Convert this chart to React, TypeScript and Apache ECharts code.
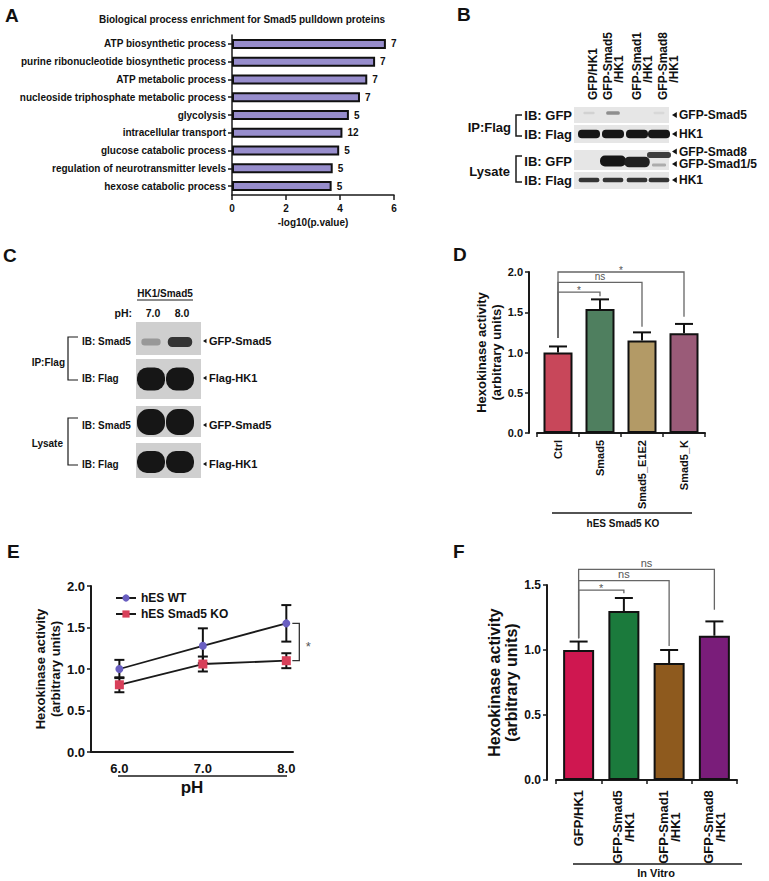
import React, { useEffect, useRef } from 'react';
import * as echarts from 'echarts';

const FONT = '"Liberation Sans", Arial, Helvetica, sans-serif';
const INK = '#111';

// ---------- Panel A : GO enrichment ----------
const goTerms = [
  'ATP biosynthetic process',
  'purine ribonucleotide biosynthetic process',
  'ATP metabolic process',
  'nucleoside triphosphate metabolic process',
  'glycolysis',
  'intracellular transport',
  'glucose catabolic process',
  'regulation of neurotransmitter levels',
  'hexose catabolic process',
];
const goLogP = [5.7, 5.3, 5.01, 4.74, 4.33, 4.09, 3.97, 3.73, 3.69];
const goGeneCounts = [7, 7, 7, 7, 5, 12, 5, 5, 5];

// ---------- Panel B : co-IP blot (band intensities 0..1) ----------
const bLaneLabels = ['GFP/HK1', 'GFP-Smad5\n/HK1', 'GFP-Smad1\n/HK1', 'GFP-Smad8\n/HK1'];
const bIpGfp = [0.06, 0.4, 0, 0.03];
const bIpFlag = [1, 1, 1, 1];
const bLysGfp = [0, 1, 0.95, 0.8];
const bLysFlag = [0.85, 0.85, 0.85, 0.85];

// ---------- Panel C : pH blot ----------
const cLanes = ['7.0', '8.0'];
const cIpSmad5 = [0.35, 0.85];
const cIpFlag = [1, 1];
const cLysSmad5 = [1, 1];
const cLysFlag = [1, 1];

// ---------- Panel D ----------
const dCats = ['Ctrl', 'Smad5', 'Smad5_E1E2', 'Smad5_K'];
const dMeans = [1.0, 1.54, 1.15, 1.24];
const dSem = [0.075, 0.12, 0.1, 0.115];
const dColors = ['#c8475a', '#4f7f5f', '#b39a66', '#9a5b78'];
// [from, to, level, leftEnd, rightEnd]
const dSig = [
  [0, 1, 1.75, 1.18, 1.7],
  [0, 2, 1.87, 1.18, 1.32],
  [0, 3, 2.0, 1.18, 1.445],
];
const dSigLabels = ['*', 'ns', '*'];

// ---------- Panel E ----------
const ePH = [6.0, 7.0, 8.0];
const eTicks = [6, 7, 8];
const eWT = [1.0, 1.28, 1.55];
const eWTsem = [0.11, 0.21, 0.22];
const eKO = [0.81, 1.06, 1.1];
const eKOsem = [0.09, 0.09, 0.09];

// ---------- Panel F ----------
const fCats = ['GFP/HK1', 'GFP-Smad5\n/HK1', 'GFP-Smad1\n/HK1', 'GFP-Smad8\n/HK1'];
const fMeans = [1.0, 1.3, 0.9, 1.11];
const fSem = [0.065, 0.1, 0.1, 0.11];
const fColors = ['#cf1750', '#1b7a3c', '#8e5a1e', '#7a1d7a'];
const fSig = [
  [0, 1, 1.46, 1.09, 1.436],
  [0, 2, 1.533, 1.09, 1.03],
  [0, 3, 1.62, 1.09, 1.31],
];
const fSigLabels = ['*', 'ns', 'ns'];

const axisLine = { show: true, lineStyle: { color: '#1a1a1a', width: 2 } };
const axisTick = (len: number) => ({ show: true, length: len, lineStyle: { color: '#1a1a1a', width: 1.5 } });
const bold = (size: number) => ({ fontSize: size, fontWeight: 'bold' as const, color: INK, fontFamily: FONT });

function txt(x: number, y: number, text: string, size: number, align = 'left', extra: any = {}) {
  return {
    type: 'text',
    x,
    y,
    silent: true,
    ...extra,
    style: {
      text,
      fontSize: size,
      fontWeight: 'bold',
      fontFamily: FONT,
      fill: INK,
      align,
      verticalAlign: 'middle',
      ...(extra.style || {}),
    },
  };
}
function ln(x1: number, y1: number, x2: number, y2: number, w = 1.5, color = '#1a1a1a') {
  return { type: 'line', silent: true, shape: { x1, y1, x2, y2 }, style: { stroke: color, lineWidth: w } };
}
function pl(points: number[][], w = 1.5) {
  return { type: 'polyline', silent: true, shape: { points }, style: { stroke: '#1a1a1a', lineWidth: w, fill: null } };
}
function tri(x: number, y: number, s = 3) {
  return { type: 'polygon', silent: true, shape: { points: [[x, y], [x + s * 1.6, y - s], [x + s * 1.6, y + s]] }, style: { fill: INK } };
}
function band(cx: number, cy: number, rx: number, ry: number, v: number) {
  const g = Math.max(22, Math.round(222 - v * 200));
  const c = `rgb(${g},${g},${g})`;
  return {
    type: 'rect',
    silent: true,
    shape: { x: cx - rx, y: cy - ry, width: rx * 2, height: ry * 2, r: Math.min(rx, ry) * 0.9 },
    style: { fill: c },
  };
}

function blotB() {
  const els: any[] = [];
  const x0 = 574, w = 95;
  const laneX = [589, 613, 637, 659];
  const strips = [
    { y: 107, h: 16, by: 113, rx: 9, ry: 2.4, vals: bIpGfp, shift: [0, 0, 0, 0] },
    { y: 125, h: 18, by: 134, rx: 11, ry: 4.2, vals: bIpFlag, shift: [0, 0, 0, 0] },
    { y: 150, h: 20, by: 161, rx: 13, ry: 5.5, vals: bLysGfp, shift: [0, 0, 1, -6] },
    { y: 172, h: 17, by: 180, rx: 11, ry: 2.4, vals: bLysFlag, shift: [0, 0, 0, 0] },
  ];
  strips.forEach((s, si) => {
    els.push({ type: 'rect', silent: true, shape: { x: x0, y: s.y, width: w, height: s.h }, style: { fill: '#e6e6e6' } });
    s.vals.forEach((v, i) => {
      if (v < 0.02) return;
      const k = si === 2 && i === 3 ? 0.6 : 1;
      els.push(band(laneX[i], s.by + s.shift[i], s.rx * (0.6 + 0.4 * v), s.ry * (0.5 + 0.5 * v) * k, v));
    });
  });
  // faint lower band in Smad8 lysate lane
  els.push(band(laneX[3], 165, 7, 1.5, 0.25));
  // lane labels (rotated)
  const colX = [593, 608, 637, 663];
  bLaneLabels.forEach((lab, i) => {
    const parts = lab.split('\n');
    els.push(txt(colX[i], 100, parts[0], 12, 'left', { rotation: Math.PI / 2 }));
    if (parts[1]) els.push(txt(colX[i] + 11, 69, parts[1], 12, 'center', { rotation: Math.PI / 2 }));
  });
  els.push(txt(572, 115, 'IB: GFP', 13, 'right'));
  els.push(txt(572, 134, 'IB: Flag', 13, 'right'));
  els.push(txt(572, 161, 'IB: GFP', 13, 'right'));
  els.push(txt(572, 180, 'IB: Flag', 13, 'right'));
  els.push(txt(511, 127, 'IP:Flag', 13, 'right'));
  els.push(txt(510, 171, 'Lysate', 13, 'right'));
  els.push(pl([[522, 115], [516, 115], [516, 136], [522, 136]]));
  els.push(pl([[522, 156], [516, 156], [516, 182], [522, 182]]));
  const right = [
    [115, 'GFP-Smad5'],
    [134, 'HK1'],
    [151.5, 'GFP-Smad8'],
    [164, 'GFP-Smad1/5'],
    [180, 'HK1'],
  ];
  right.forEach(([y, t]) => {
    els.push(tri(672, y as number, 3));
    els.push(txt(679, y as number, t as string, 12, 'left', { style: { lineHeight: 12 } }));
  });
  return els;
}

function blotC() {
  const els: any[] = [];
  const x0 = 136, w = 65;
  const laneX = [151, 180];
  const strips = [
    { y: 322, h: 33, by: 342, rx: 13, ry: 5.5, vals: cIpSmad5 },
    { y: 359, h: 40, by: 379, rx: 14, ry: 11.5, vals: cIpFlag },
    { y: 406, h: 31, by: 422, rx: 14, ry: 13, vals: cLysSmad5 },
    { y: 443, h: 35, by: 462, rx: 14, ry: 11, vals: cLysFlag },
  ];
  strips.forEach((s) => {
    els.push({ type: 'rect', silent: true, shape: { x: x0, y: s.y, width: w, height: s.h }, style: { fill: '#cfcfcf' } });
    s.vals.forEach((v, i) => {
      els.push(band(laneX[i], s.by, s.rx * (0.6 + 0.4 * v), s.ry * (0.45 + 0.55 * v), v));
    });
  });
  els.push(txt(165, 293, 'HK1/Smad5', 10, 'center'));
  els.push(ln(137, 300, 193, 300, 1.2));
  els.push(txt(132, 313, 'pH:', 10.5, 'right'));
  cLanes.forEach((l, i) => els.push(txt([153, 182][i], 313, l, 10.5, 'center')));
  els.push(txt(82, 341, 'IB: Smad5', 10, 'left'));
  els.push(txt(82, 378, 'IB: Flag', 10, 'left'));
  els.push(txt(82, 425, 'IB: Smad5', 10, 'left'));
  els.push(txt(82, 464, 'IB: Flag', 10, 'left'));
  els.push(pl([[78, 337], [68, 337], [68, 380], [78, 380]], 1.2));
  els.push(pl([[78, 418], [68, 418], [68, 465], [78, 465]], 1.2));
  els.push(txt(65, 362, 'IP:Flag', 10, 'right'));
  els.push(txt(63, 443, 'Lysate', 10, 'right'));
  const right = [
    [341, 'GFP-Smad5'],
    [378, 'Flag-HK1'],
    [425, 'GFP-Smad5'],
    [464, 'Flag-HK1'],
  ];
  right.forEach(([y, t]) => {
    els.push(tri(203, y as number, 2.2));
    els.push(txt(209, y as number, t as string, 11, 'left'));
  });
  return els;
}

function errorBars(capHalf: number, both: boolean) {
  return (params: any, api: any) => {
    const x = api.value(0);
    const m = api.value(1);
    const e = api.value(2);
    const top = api.coord([x, m + e]);
    const mid = api.coord([x, m]);
    const bot = api.coord([x, m - e]);
    const style = { stroke: '#111', lineWidth: 2 };
    const start = both ? bot : mid;
    const children: any[] = [
      { type: 'line', shape: { x1: top[0], y1: top[1], x2: start[0], y2: start[1] }, style },
      { type: 'line', shape: { x1: top[0] - capHalf, y1: top[1], x2: top[0] + capHalf, y2: top[1] }, style },
    ];
    if (both) {
      children.push({ type: 'line', shape: { x1: bot[0] - capHalf, y1: bot[1], x2: bot[0] + capHalf, y2: bot[1] }, style });
    }
    return { type: 'group', children };
  };
}

function brackets(labels: string[], labelSize: number) {
  return (params: any, api: any) => {
    const from = api.value(0), to = api.value(1), level = api.value(2), le = api.value(3), re = api.value(4);
    const a = api.coord([from, le]);
    const b = api.coord([from, level]);
    const c = api.coord([to, level]);
    const d = api.coord([to, re]);
    return {
      type: 'group',
      children: [
        { type: 'polyline', shape: { points: [a, b, c, d] }, style: { stroke: '#666', lineWidth: 1.3, fill: null } },
        {
          type: 'text',
          x: (b[0] + c[0]) / 2,
          y: b[1] + (labels[params.dataIndex] === '*' ? 3 : -1),
          style: { text: labels[params.dataIndex], fill: '#555', fontSize: labelSize, fontFamily: FONT, align: 'center', verticalAlign: 'bottom' },
        },
      ],
    };
  };
}

function eSigRender(params: any, api: any) {
  const x = api.value(0);
  const p1 = api.coord([x, api.value(1)]);
  const p2 = api.coord([x, api.value(2)]);
  return {
    type: 'group',
    children: [
      { type: 'polyline', shape: { points: [[p1[0] + 6, p1[1]], [p1[0] + 13, p1[1]], [p1[0] + 13, p2[1]], [p1[0] + 6, p2[1]]] }, style: { stroke: '#333', lineWidth: 1.3, fill: null } },
      { type: 'text', x: p1[0] + 22, y: (p1[1] + p2[1]) / 2 + 4, style: { text: '*', fill: '#555', fontSize: 13, fontFamily: FONT, align: 'center', verticalAlign: 'middle' } },
    ],
  };
}

const yName = 'Hexokinase activity\n(arbitrary units)';

function buildOption() {
  const graphic: any[] = [
    txt(5, 15, 'A', 19),
    txt(457, 14, 'B', 19),
    txt(3, 255, 'C', 19),
    txt(453, 254, 'D', 19),
    txt(7, 551, 'E', 19),
    txt(453, 551, 'F', 19),
    txt(242, 19, 'Biological process enrichment for Smad5 pulldown proteins', 10, 'center'),
    ...blotB(),
    ...blotC(),
    ln(552, 513, 692, 513, 1.5),
    txt(623, 523, 'hES Smad5 KO', 10, 'center'),
    ln(118, 776, 287, 776, 1.5),
    ln(573, 864, 742, 864, 1.5),
    txt(656, 873, 'In Vitro', 11, 'center'),
  ];

  const fRich = {
    w: { width: 74, align: 'center', fontSize: 13, fontWeight: 'bold', lineHeight: 12, color: INK, fontFamily: FONT },
    s: { fontSize: 13, fontWeight: 'bold', color: INK, fontFamily: FONT },
  };

  return {
    animation: false,
    backgroundColor: '#ffffff',
    textStyle: { fontFamily: FONT },
    legend: {
      data: ['hES WT', 'hES Smad5 KO'],
      left: 110,
      top: 587,
      orient: 'vertical',
      itemGap: 4,
      itemWidth: 20,
      itemHeight: 9,
      textStyle: bold(12),
    },
    grid: [
      { left: 232, top: 35, width: 162, height: 160 },
      { left: 537, top: 272, width: 168, height: 161 },
      { left: 91, top: 586, width: 202, height: 166 },
      { left: 556, top: 585, width: 181, height: 195 },
    ],
    xAxis: [
      {
        gridIndex: 0, type: 'value', min: 0, max: 6, interval: 2,
        axisLine: { show: true, lineStyle: { color: '#1a1a1a', width: 1.5 } }, axisTick: axisTick(5), splitLine: { show: false },
        axisLabel: { ...bold(10), margin: 8 },
        name: '-log10(p.value)', nameLocation: 'middle', nameGap: 22, nameTextStyle: bold(10),
      },
      {
        gridIndex: 1, type: 'category', data: dCats,
        axisLine, axisTick: axisTick(4), splitLine: { show: false },
        axisLabel: { ...bold(11), rotate: 90, interval: 0, margin: 7 },
      },
      {
        gridIndex: 2, type: 'value', min: 5.66, max: 8.08,
        axisLine, axisTick: { show: false }, splitLine: { show: false },
        axisLabel: { ...bold(13), customValues: eTicks, formatter: (v: number) => v.toFixed(1), margin: 10 },
        name: 'pH', nameLocation: 'middle', nameGap: 27, nameTextStyle: bold(17),
      },
      {
        gridIndex: 3, type: 'category', data: fCats,
        axisLine, axisTick: axisTick(4), splitLine: { show: false },
        axisLabel: {
          rotate: 90, interval: 0, margin: 10, rich: fRich,
          formatter: (v: string) => (v.indexOf('\n') >= 0 ? v.split('\n').map((s) => `{w|${s}}`).join('\n') : `{s|${v}}`),
        },
      },
    ],
    yAxis: [
      {
        gridIndex: 0, type: 'category', data: goTerms, inverse: true,
        axisLine: { show: true, lineStyle: { color: '#1a1a1a', width: 1.5 } }, axisTick: { ...axisTick(4), alignWithLabel: true },
        axisLabel: { ...bold(10), interval: 0, margin: 6 },
      },
      {
        gridIndex: 1, type: 'value', min: 0, max: 2, interval: 0.5, offset: 8,
        axisLine, axisTick: axisTick(4), splitLine: { show: false },
        axisLabel: { ...bold(11), margin: 6, formatter: (v: number) => v.toFixed(1) },
        name: yName, nameLocation: 'middle', nameRotate: 90, nameGap: 25,
        nameTextStyle: { ...bold(13), lineHeight: 15 },
      },
      {
        gridIndex: 2, type: 'value', min: 0, max: 2, interval: 0.5,
        axisLine, axisTick: axisTick(4), splitLine: { show: false },
        axisLabel: { ...bold(13), margin: 6, formatter: (v: number) => v.toFixed(1) },
        name: yName, nameLocation: 'middle', nameRotate: 90, nameGap: 26,
        nameTextStyle: { ...bold(13), lineHeight: 15 },
      },
      {
        gridIndex: 3, type: 'value', min: 0, max: 1.5, interval: 0.5, offset: 9,
        axisLine, axisTick: axisTick(4), splitLine: { show: false },
        axisLabel: { ...bold(12), margin: 6, formatter: (v: number) => v.toFixed(1) },
        name: yName, nameLocation: 'middle', nameRotate: 90, nameGap: 24,
        nameTextStyle: { ...bold(16), lineHeight: 17 },
      },
    ],
    series: [
      // A
      {
        type: 'bar', xAxisIndex: 0, yAxisIndex: 0, data: goLogP, barWidth: 10,
        itemStyle: { color: '#978dcc', borderColor: '#111', borderWidth: 2 },
        label: { show: true, position: 'right', distance: 5, ...bold(10), formatter: (p: any) => String(goGeneCounts[p.dataIndex]) },
      },
      // D
      {
        type: 'bar', xAxisIndex: 1, yAxisIndex: 1, barWidth: 29,
        data: dMeans.map((v, i) => ({ value: v, itemStyle: { color: dColors[i] } })),
        itemStyle: { borderColor: '#111', borderWidth: 2 },
      },
      {
        type: 'custom', xAxisIndex: 1, yAxisIndex: 1, silent: true, z: 3, clip: false,
        data: dMeans.map((v, i) => [i, v, dSem[i]]), encode: { x: 0, y: 1 },
        renderItem: errorBars(9, false),
      },
      {
        type: 'custom', xAxisIndex: 1, yAxisIndex: 1, silent: true, z: 3, clip: false,
        data: dSig, encode: { x: 0, y: 2 }, renderItem: brackets(dSigLabels, 10),
      },
      // E
      {
        name: 'hES WT', type: 'line', xAxisIndex: 2, yAxisIndex: 2, z: 4,
        data: ePH.map((x, i) => [x, eWT[i]]), symbol: 'circle', symbolSize: 8,
        itemStyle: { color: '#6a5fc1' }, lineStyle: { color: '#1a1a1a', width: 1.8 },
      },
      {
        name: 'hES Smad5 KO', type: 'line', xAxisIndex: 2, yAxisIndex: 2, z: 4,
        data: ePH.map((x, i) => [x, eKO[i]]), symbol: 'rect', symbolSize: 9,
        itemStyle: { color: '#d8405a' }, lineStyle: { color: '#1a1a1a', width: 1.8 },
      },
      {
        type: 'custom', xAxisIndex: 2, yAxisIndex: 2, silent: true, z: 3, clip: false,
        data: ePH.map((x, i) => [x, eWT[i], eWTsem[i]]), encode: { x: 0, y: 1 },
        renderItem: errorBars(5, true),
      },
      {
        type: 'custom', xAxisIndex: 2, yAxisIndex: 2, silent: true, z: 3, clip: false,
        data: ePH.map((x, i) => [x, eKO[i], eKOsem[i]]), encode: { x: 0, y: 1 },
        renderItem: errorBars(5, true),
      },
      {
        type: 'custom', xAxisIndex: 2, yAxisIndex: 2, silent: true, z: 3, clip: false,
        data: [[ePH[2], eWT[2], eKO[2]]], encode: { x: 0, y: 1 }, renderItem: eSigRender,
      },
      // F
      {
        type: 'bar', xAxisIndex: 3, yAxisIndex: 3, barWidth: 31,
        data: fMeans.map((v, i) => ({ value: v, itemStyle: { color: fColors[i] } })),
        itemStyle: { borderColor: '#111', borderWidth: 2 },
      },
      {
        type: 'custom', xAxisIndex: 3, yAxisIndex: 3, silent: true, z: 3, clip: false,
        data: fMeans.map((v, i) => [i, v, fSem[i]]), encode: { x: 0, y: 1 },
        renderItem: errorBars(9, false),
      },
      {
        type: 'custom', xAxisIndex: 3, yAxisIndex: 3, silent: true, z: 3, clip: false,
        data: fSig, encode: { x: 0, y: 2 }, renderItem: brackets(fSigLabels, 11),
      },
    ],
    graphic,
  };
}

export default function App() {
  const ref = useRef<HTMLDivElement>(null);
  useEffect(() => {
    if (!ref.current) return;
    const chart = echarts.init(ref.current, null, { renderer: 'svg' });
    chart.setOption(buildOption() as any);
    return () => chart.dispose();
  }, []);
  return (
    <div
      ref={ref}
      style={{ position: 'absolute', left: 0, top: 0, width: 769, height: 881, background: '#fff' }}
    />
  );
}
